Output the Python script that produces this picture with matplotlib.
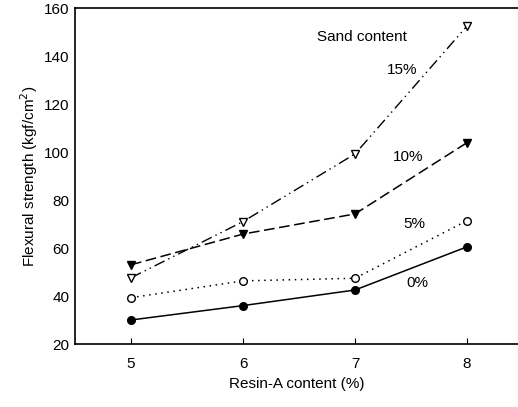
import matplotlib
matplotlib.use("Agg")
import matplotlib.pyplot as plt

resin = [5, 6, 7, 8]
sand_0 = [30.0, 36.0, 42.5, 60.5]
sand_5 = [39.3, 46.3, 47.4, 71.4]
sand_10 = [53.0, 65.8, 74.2, 103.9]
sand_15 = [47.6, 71.0, 99.2, 152.5]
series_labels = ["0%", "5%", "10%", "15%"]
xticks = [5, 6, 7, 8]
yticks = [20, 40, 60, 80, 100, 120, 140, 160]

plt.rcParams['font.family'] = ['Liberation Sans', 'DejaVu Sans']

W, H = 518, 407
fig = plt.figure(figsize=(W / 100, H / 100), dpi=100)
ax = fig.add_axes([75 / W, 1 - 344 / H, (518 - 75) / W, (344 - 8) / H])

ax.plot(resin, sand_0, color='black', lw=1.1, ls='-', marker='o', ms=5.5,
        mfc='black', mec='black')
ax.plot(resin, sand_5, color='black', lw=1.1, ls=(0, (1, 3)), marker='o', ms=5.5,
        mfc='white', mec='black', mew=1.0)
ax.plot(resin, sand_10, color='black', lw=1.1, ls=(0, (7, 3)), marker='v', ms=6,
        mfc='black', mec='black')
ax.plot(resin, sand_15, color='black', lw=1.0, ls=(0, (8, 3, 1, 3, 1, 3)), marker='v', ms=6,
        mfc='white', mec='black', mew=1.0)

ax.set_xlim(4.5, 8.455)
ax.set_ylim(20, 160)
ax.set_xticks(xticks)
ax.set_yticks(yticks)
ax.tick_params(axis='x', direction='in', length=4, labelsize=11, pad=9)
ax.tick_params(axis='y', direction='in', length=0, labelsize=11, pad=4)
for s in ['left', 'bottom', 'top']:
    ax.spines[s].set_linewidth(1.2)
ax.spines['right'].set_visible(False)

ax.set_xlabel('Resin-A content (%)', fontsize=11, labelpad=5)
ax.set_ylabel('Flexural strength (kgf/cm$^2$)', fontsize=11, labelpad=3)

def px(x, y):
    return ax.transData.inverted().transform(
        fig.transFigure.transform((x / W, 1 - y / H)))

tx, ty = px(362, 37)
ax.text(tx, ty, 'Sand content', fontsize=11, ha='center', va='center')
for lab, (x, y) in zip(series_labels, [(417, 283), (414, 224), (408, 157), (402, 70)]):
    tx, ty = px(x, y)
    ax.text(tx, ty, lab, fontsize=11, ha='center', va='center')

fig.savefig('out.png', dpi=100)
